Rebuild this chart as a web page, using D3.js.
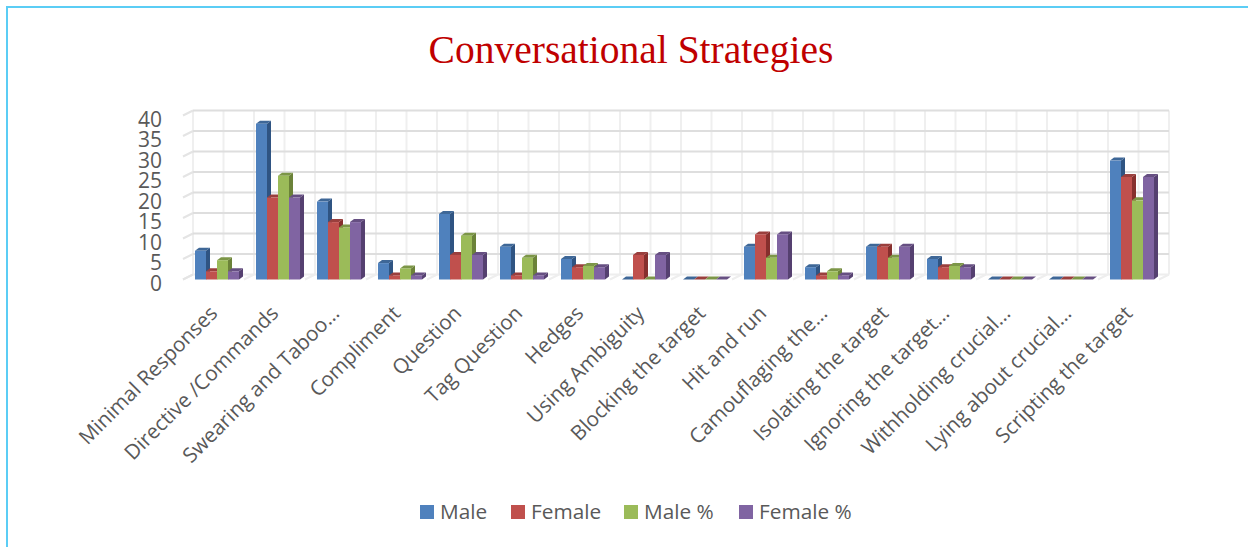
<!DOCTYPE html>
<html><head><meta charset="utf-8">
<script src="https://cdn.jsdelivr.net/npm/d3@7/dist/d3.min.js"></script>
<style>html,body{margin:0;padding:0;background:#fff}svg{display:block}</style>
</head><body><svg id="c" width="1248" height="547"></svg>
<script>
const categories=["Minimal Responses","Directive /Commands","Swearing and Taboo…","Compliment","Question","Tag Question","Hedges","Using Ambiguity","Blocking the target","Hit and run","Camouflaging the…","Isolating the target","Ignoring the target…","Withholding crucial…","Lying about crucial…","Scripting the target"];
const seriesNames=["Male","Female","Male %","Female %"];
const male=[7,38,19,4,16,8,5,0,0,8,3,8,5,0,0,29];
const female=[2,20,14,1,6,1,3,6,0,11,1,8,3,0,0,25];
const malePct=[4.7,25.3,12.7,2.7,10.7,5.3,3.3,0,0,5.3,2,5.3,3.3,0,0,19.3];
const femalePct=[2,20,14,1,6,1,3,6,0,11,1,8,3,0,0,25];
const seriesValues=[male,female,malePct,femalePct];
const yTicks=[0,5,10,15,20,25,30,35,40];
const colors=["#4f81bd","#c0504d","#9bbb59","#8064a2"];
const sideColors=["#2f5482","#862f2d","#6b8239","#554070"];
const topColors=["#3e6797","#9a3f3d","#7c9647","#664f82"];

const svg=d3.select("#c");
const font="'Open Sans','Noto Sans',sans-serif";
svg.append("path").attr("d","M7 547V7H1248").attr("fill","none").attr("stroke","#5bcdf5").attr("stroke-width",2);
svg.append("text").attr("x",631).attr("y",63).attr("text-anchor","middle").attr("font-family","'Liberation Serif',serif").attr("font-size",39.5).attr("fill","#c00000").text("Conversational Strategies");

const dx=10,dy=-5;
const y=d3.scaleLinear().domain([0,40]).range([279.5,115.5]);
const x=d3.scaleBand().domain(categories).range([186.5,1162.5]).paddingInner(17/61).paddingOuter(8.5/61);
const xs=d3.scaleBand().domain(seriesNames).range([0,x.bandwidth()]);
const g=svg.append("g");
const backStep=(1169-193)/32;
d3.range(0,33).forEach(i=>{
  const bx=193+i*backStep;
  g.append("line").attr("x1",bx).attr("x2",bx).attr("y1",y(40)+dy).attr("y2",y(0)+dy).attr("stroke","#efefef").attr("stroke-width",2);
  if(i%2===0) g.append("line").attr("x1",bx).attr("x2",bx-dx).attr("y1",y(0)+dy).attr("y2",y(0)).attr("stroke","#eeeeee").attr("stroke-width",2);
});
yTicks.forEach(t=>{
  g.append("line").attr("x1",183).attr("x2",183+dx).attr("y1",y(t)).attr("y2",y(t)+dy).attr("stroke","#e4e4e4").attr("stroke-width",2);
  g.append("line").attr("x1",183+dx).attr("x2",1169).attr("y1",y(t)+dy).attr("y2",y(t)+dy).attr("stroke",t===0?"#eeeeee":"#dedede").attr("stroke-width",2);
});

const axis=d3.axisLeft(y).tickValues(yTicks).tickSize(0).tickPadding(0);
const ag=svg.append("g").attr("transform","translate(162,3)").call(axis);
ag.select(".domain").remove();
ag.selectAll("text").attr("font-family",font).attr("font-size",21).attr("fill","#595959").attr("dy","0.36em");

const bd=4,bu=3;
categories.forEach((c,i)=>{
  seriesNames.forEach((s,k)=>{
    const v=seriesValues[k][i];
    const x0=x(c)+xs(s),w=xs.bandwidth(),t=y(v),b=y(0);
    const gg=svg.append("g");
    gg.append("path").attr("fill",sideColors[k]).attr("d",d3.line()([[x0+w,t],[x0+w+bd,t-bu],[x0+w+bd,b-bu],[x0+w,b]]));
    gg.append("path").attr("fill",topColors[k]).attr("d",d3.line()([[x0,t],[x0+bd,t-bu],[x0+w+bd,t-bu],[x0+w,t]]));
    if(v>0) gg.append("rect").attr("x",x0).attr("y",t).attr("width",w).attr("height",b-t).attr("fill",colors[k]);
  });
});

categories.forEach(c=>{
  const cx=x(c)+x.bandwidth()/2-3.5, cy=309.5;
  svg.append("text").attr("transform",`translate(${cx},${cy}) rotate(-45)`).attr("text-anchor","end").attr("dy","0.35em")
    .attr("font-family",font).attr("font-size",20.6).attr("fill","#595959").text(c);
});

const legendX=[420,511,624,739];
seriesNames.forEach((s,k)=>{
  svg.append("rect").attr("x",legendX[k]).attr("y",505).attr("width",14).attr("height",14).attr("fill",colors[k]);
  svg.append("text").attr("x",legendX[k]+20).attr("y",519).attr("font-family",font).attr("font-size",20.8).attr("fill","#595959").text(s);
});
</script></body></html>
